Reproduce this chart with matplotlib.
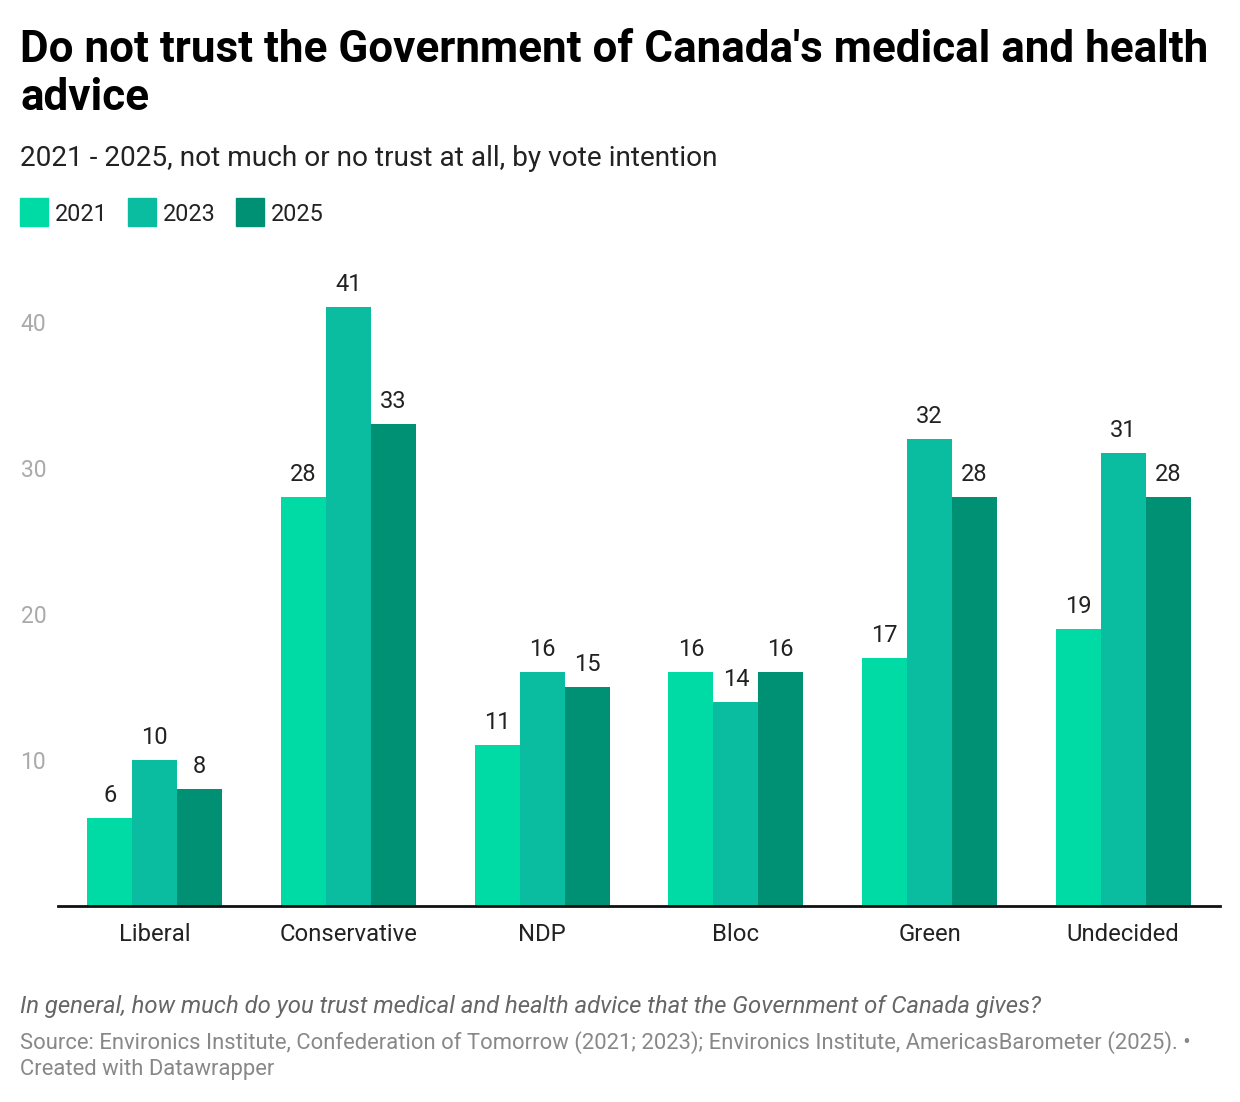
import matplotlib.pyplot as plt
import matplotlib.patches as patches
import numpy as np

plt.rcParams['font.family'] = ['Roboto', 'DejaVu Sans']

categories = ['Liberal', 'Conservative', 'NDP', 'Bloc', 'Green', 'Undecided']
years = ['2021', '2023', '2025']
values_2021 = [6, 28, 11, 16, 17, 19]
values_2023 = [10, 41, 16, 14, 32, 31]
values_2025 = [8, 33, 15, 16, 28, 28]
y_ticks = [10, 20, 30, 40]

colors = ['#00dba6', '#0abda0', '#009175']
W, H = 1240, 1102


def fx(px):
    return px / W


def fy(px):
    return 1 - px / H


fig = plt.figure(figsize=(W / 100, H / 100), dpi=100)
ax = fig.add_axes([fx(58), fy(906), fx(1220) - fx(58), fy(278) - fy(906)])

series = [values_2021, values_2023, values_2025]
x = np.arange(len(categories))
bw = 0.232
for i, vals in enumerate(series):
    pos = x + (i - 1) * bw
    ax.bar(pos, vals, width=bw, color=colors[i], linewidth=0)
    for xi, v in zip(pos, vals):
        ax.annotate(str(v), (xi, v), xytext=(0, 11.5), textcoords='offset points',
                    ha='center', va='baseline', fontsize=17, color='#222222')

ax.set_xlim(-0.5, len(categories) - 0.5)
ax.set_ylim(0, 43)
for s in ['top', 'right', 'left']:
    ax.spines[s].set_visible(False)
ax.spines['bottom'].set_linewidth(2)
ax.spines['bottom'].set_color('#111111')
ax.set_xticks(x)
ax.set_xticklabels(categories, fontsize=17.2, color='#222222')
ax.tick_params(axis='x', length=0, pad=12)
ax.set_yticks(y_ticks)
ax.set_yticklabels([str(t) for t in y_ticks], fontsize=16.5, color='#aaaaaa', ha='left')
ax.tick_params(axis='y', length=0, pad=27)

# title, subtitle
fig.text(fx(20), fy(62), "Do not trust the Government of Canada's medical and health",
         fontsize=31.7, fontweight='bold', color='#000000', va='baseline')
fig.text(fx(20), fy(110), "advice", fontsize=31.7, fontweight='bold', color='#000000', va='baseline')
fig.text(fx(20), fy(166), "2021 - 2025, not much or no trust at all, by vote intention",
         fontsize=20.2, color='#222222', va='baseline')

# legend
lx = [20, 128, 236]
for i, yr in enumerate(years):
    fig.patches.append(patches.Rectangle((fx(lx[i]), fy(226)), fx(28), fy(198) - fy(226),
                                         transform=fig.transFigure, color=colors[i]))
    fig.text(fx(lx[i] + 35), fy(221), yr, fontsize=16.8, color='#222222', va='baseline')

# footer
fig.text(fx(20), fy(1013),
         "In general, how much do you trust medical and health advice that the Government of Canada gives?",
         fontsize=17.2, style='italic', color='#666666', va='baseline')
fig.text(fx(20), fy(1049),
         "Source: Environics Institute, Confederation of Tomorrow (2021; 2023); Environics Institute, AmericasBarometer (2025). \u2022",
         fontsize=15.8, color='#888888', va='baseline')
fig.text(fx(20), fy(1075), "Created with Datawrapper", fontsize=15.8, color='#888888', va='baseline')

fig.savefig('out.png', dpi=100)
